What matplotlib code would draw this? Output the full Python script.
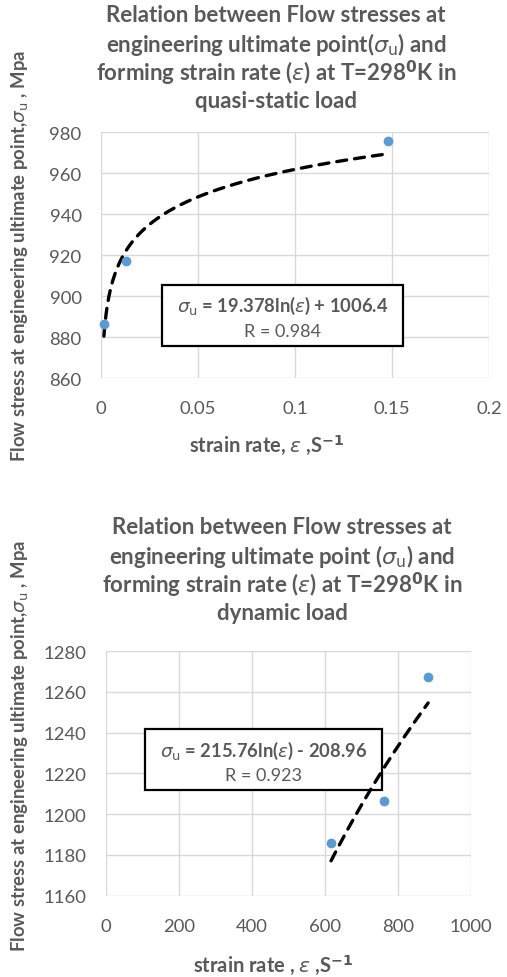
import numpy as np
import matplotlib
matplotlib.use("Agg")
import matplotlib.pyplot as plt

plt.rcParams['font.family'] = ['Lato', 'DejaVu Sans']
plt.rcParams['mathtext.fontset'] = 'dejavusans'

# ---- data: quasi-static load ----
qs_rate = [0.0015, 0.013, 0.148]
qs_stress = [886.3, 917.3, 975.5]
qs_coef = [19.378, 1006.4]   # sigma = a*ln(eps) + b
qs_R = 0.984
qs_xticks = [0, 0.05, 0.1, 0.15, 0.2]
qs_xticklabels = ["0", "0.05", "0.1", "0.15", "0.2"]
qs_yticks = [860, 880, 900, 920, 940, 960, 980]

# ---- data: dynamic load ----
dy_rate = [616.5, 762.7, 882.6]
dy_stress = [1185.8, 1206.6, 1267.4]
dy_coef = [215.76, -208.96]
dy_R = 0.923
dy_xticks = [0, 200, 400, 600, 800, 1000]
dy_yticks = [1160, 1180, 1200, 1220, 1240, 1260, 1280]

GRAY = '#595959'
GRID = '#d9d9d9'
BLUE = '#5b9bd5'

fig = plt.figure(figsize=(5.07, 9.78), dpi=100)

def px(x, y):
    return x / 507.0, 1 - y / 978.0

def make_axes(l, t, r, b):
    x0, y1 = px(l, t)
    x1, y0 = px(r, b)
    return fig.add_axes([x0, y0, x1 - x0, y1 - y0])

def style(ax, xticks, yticks, xlabels=None):
    ax.set_xlim(xticks[0], xticks[-1])
    ax.set_ylim(yticks[0], yticks[-1])
    ax.set_xticks(xticks)
    if xlabels is not None:
        ax.set_xticklabels(xlabels)
    ax.set_yticks(yticks)
    for s in ax.spines.values():
        s.set_visible(False)
    ax.grid(True, color=GRID, linewidth=1.0, zorder=0)
    ax.set_axisbelow(True)
    ax.tick_params(length=0, labelsize=13.3, colors=GRAY)
    ax.tick_params(axis='y', pad=14)
    ax.tick_params(axis='x', pad=16)

def add_box(ax, l, t, r, b, line1, line2):
    x0, y1 = px(l, t)
    x1, y0 = px(r, b)
    ax.add_patch(plt.Rectangle((x0, y0), x1 - x0, y1 - y0, transform=fig.transFigure,
                               facecolor='white', edgecolor='black', lw=1.6, zorder=2.5,
                               clip_on=False))
    cx = (l + r) / 2
    h = b - t
    ax.text(*px(cx, t + 0.34 * h), line1, transform=fig.transFigure, ha='center', va='center',
            fontsize=13.2, fontweight='bold', color=GRAY, zorder=6)
    ax.text(*px(cx, t + 0.76 * h), line2, transform=fig.transFigure, ha='center', va='center',
            fontsize=13, color=GRAY, zorder=6)

def trend(ax, rate, coef):
    xs = np.linspace(min(rate), max(rate), 400)
    ax.plot(xs, coef[0] * np.log(xs) + coef[1], color='black', lw=2.4,
            linestyle=(0, (3.0, 2.4)), dash_capstyle='round', zorder=3)

title_qs = ["Relation between Flow stresses at",
            r"engineering ultimate point($\sigma_{\mathrm{u}}$) and",
            r"forming strain rate ($\varepsilon$) at T=298$^{\mathbf{0}}$K in",
            "quasi-static load"]
title_dy = ["Relation between Flow stresses at",
            r"engineering ultimate point ($\sigma_{\mathrm{u}}$) and",
            r"forming strain rate ($\varepsilon$) at T=298$^{\mathbf{0}}$K in",
            "dynamic load"]
ylab = r"Flow stress at engineering ultimate point,$\sigma_{\mathrm{u}}$ , Mpa"

# ---------- top chart ----------
ax1 = make_axes(101, 133, 489, 379)
style(ax1, qs_xticks, qs_yticks, qs_xticklabels)
trend(ax1, qs_rate, qs_coef)
ax1.plot(qs_rate, qs_stress, 'o', color=BLUE, ms=6, zorder=4, clip_on=False)
add_box(ax1, 162, 285.7, 403, 346.7,
        r"$\sigma_{\mathrm{u}}$ = %.3fln($\varepsilon$) + %.1f" % (qs_coef[0], qs_coef[1]),
        "R = %.3f" % qs_R)
for i, line in enumerate(title_qs):
    fig.text(*px(276, 15 + 29 * i), line, ha='center', va='center', fontsize=16,
             fontweight='bold', color=GRAY)
fig.text(*px(20, 256), ylab, rotation=90, ha='center', va='center', fontsize=13.3,
         fontweight='bold', color=GRAY)
fig.text(*px(267, 445), r"strain rate, $\varepsilon$ ,S$^{\mathbf{-1}}$", ha='center', va='center',
         fontsize=14.5, fontweight='bold', color=GRAY)

# ---------- bottom chart ----------
ax2 = make_axes(106, 652, 471, 896.7)
style(ax2, dy_xticks, dy_yticks)
trend(ax2, dy_rate, dy_coef)
ax2.plot(dy_rate, dy_stress, 'o', color=BLUE, ms=6, zorder=4, clip_on=False)
add_box(ax2, 145, 730, 382, 790.7,
        r"$\sigma_{\mathrm{u}}$ = %.2fln($\varepsilon$) - %.2f" % (dy_coef[0], -dy_coef[1]),
        "R = %.3f" % dy_R)
for i, line in enumerate(title_dy):
    fig.text(*px(282, 528 + 28.5 * i), line, ha='center', va='center', fontsize=16,
             fontweight='bold', color=GRAY)
fig.text(*px(20, 746), ylab, rotation=90, ha='center', va='center', fontsize=13.3,
         fontweight='bold', color=GRAY)
fig.text(*px(273, 965), r"strain rate , $\varepsilon$ ,S$^{\mathbf{-1}}$", ha='center', va='center',
         fontsize=14.5, fontweight='bold', color=GRAY)

fig.savefig("out.png", dpi=100)
